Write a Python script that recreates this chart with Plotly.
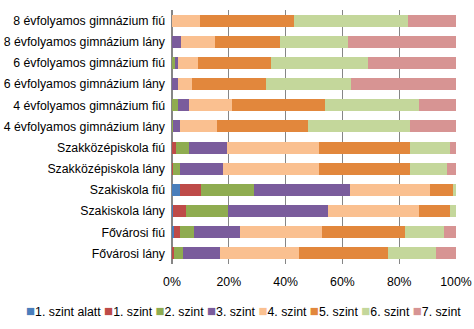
import plotly.graph_objects as go

categories = [
    "8 évfolyamos gimnázium fiú",
    "8 évfolyamos gimnázium lány",
    "6 évfolyamos gimnázium fiú",
    "6 évfolyamos gimnázium lány",
    "4 évfolyamos gimnázium fiú",
    "4 évfolyamos gimnázium lány",
    "Szakközépiskola fiú",
    "Szakközépiskola lány",
    "Szakiskola fiú",
    "Szakiskola lány",
    "Fővárosi fiú",
    "Fővárosi lány",
]

series_names = ["1. szint alatt", "1. szint", "2. szint", "3. szint",
                "4. szint", "5. szint", "6. szint", "7. szint"]

s_alatt = [0, 0, 0, 0, 0, 0, 0, 0, 2.9, 0.4, 0.8, 0]
s_1 = [0, 0, 0, 0, 0, 0, 1.5, 0.4, 7.4, 4.6, 2.1, 0.8]
s_2 = [0, 0, 1.0, 0, 2.0, 0.3, 4.6, 2.5, 18.7, 14.8, 5.0, 3.2]
s_3 = [0, 3.0, 1.0, 2.0, 4.0, 2.6, 13.4, 15.2, 33.8, 35.2, 16.2, 13.0]
s_4 = [10.0, 12.0, 7.0, 5.0, 15.0, 13.0, 32.4, 33.8, 28.2, 32.1, 28.8, 27.8]
s_5 = [33.0, 23.0, 26.0, 26.0, 33.0, 32.0, 32.0, 32.0, 8.1, 10.9, 29.3, 31.4]
s_6 = [40.0, 24.0, 34.0, 30.0, 33.0, 36.0, 14.0, 13.0, 0.9, 2.0, 13.7, 16.9]
s_7 = [17.0, 38.0, 31.0, 37.0, 13.0, 16.1, 2.0, 3.1, 0, 0, 4.1, 6.9]

tick_vals = [0, 20, 40, 60, 80, 100]
tick_text = ["0%", "20%", "40%", "60%", "80%", "100%"]

colors = ["#4A7EBB", "#BE4B48", "#8FAC50", "#7A5C9C",
          "#FAC090", "#E2873C", "#C4D79B", "#D79493"]

all_series = [s_alatt, s_1, s_2, s_3, s_4, s_5, s_6, s_7]

W, H = 474, 329
ML, MR, MT, MB = 172, 18, 10, 65
plot_w = W - ML - MR
plot_h = H - MT - MB

fig = go.Figure()
for name, vals, col in zip(series_names, all_series, colors):
    fig.add_trace(go.Bar(
        y=categories, x=vals, name=name, orientation="h",
        marker=dict(color=col, line=dict(width=0)),
        showlegend=False,
    ))

# Legend drawn as a single line of text with coloured squares
legend_parts = []
for name, col in zip(series_names, colors):
    legend_parts.append(
        f'<span style="color:{col};font-size:15px">■</span>{name}'
    )
legend_text = "&nbsp;".join(legend_parts)

font_family = "Liberation Sans, Arial, sans-serif"
legend_cx = 243  # horizontal centre of the legend, px
legend_cy = 310  # vertical centre of the legend, px
fig.add_annotation(
    xref="paper", yref="paper",
    x=(legend_cx - ML) / plot_w,
    y=(H - MB - legend_cy) / plot_h,
    xanchor="center", yanchor="middle",
    text=legend_text, showarrow=False,
    font=dict(family=font_family, size=12.3, color="#000000"),
)

fig.update_layout(
    barmode="stack",
    bargap=0.43,
    width=W, height=H,
    margin=dict(l=ML, r=MR, t=MT, b=MB),
    paper_bgcolor="white",
    plot_bgcolor="white",
    font=dict(family=font_family, size=12.3, color="#000000"),
    showlegend=False,
    xaxis=dict(
        range=[0, 100],
        tickvals=tick_vals, ticktext=tick_text,
        showgrid=True, gridcolor="#868686", gridwidth=1,
        zeroline=True, zerolinecolor="#868686",
        showline=False,
        ticks="", ticklen=0,
        ticklabelstandoff=9,
        automargin=False,
        fixedrange=True,
    ),
    yaxis=dict(
        autorange="reversed",
        showgrid=False,
        ticks="", ticklen=0,
        ticklabelstandoff=6,
        showline=False,
        automargin=False,
        fixedrange=True,
    ),
)

fig.write_html("out.html")
